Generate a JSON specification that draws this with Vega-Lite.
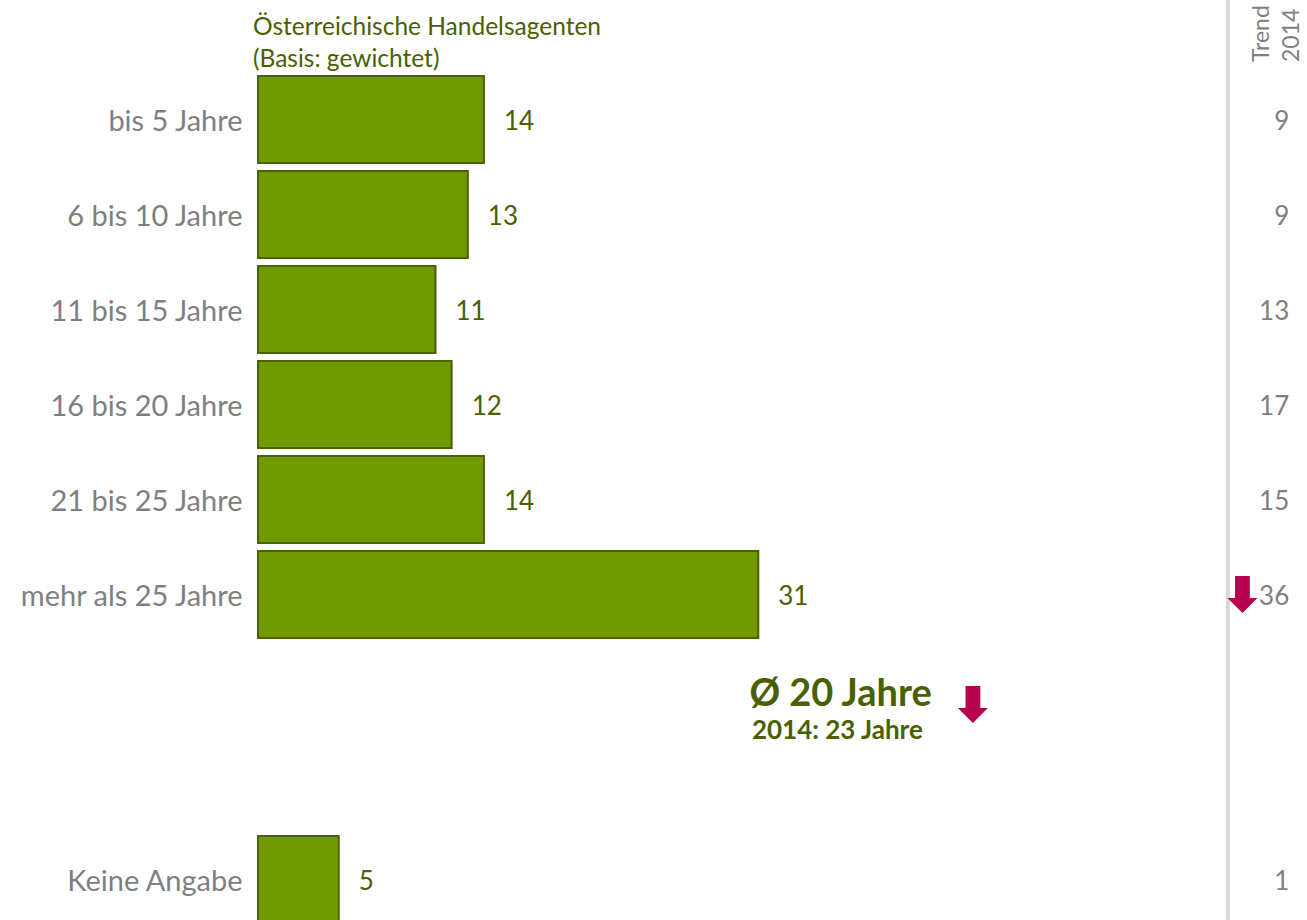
{
  "$schema": "https://vega.github.io/schema/vega-lite/v6.json",
  "width": 1049,
  "height": 855,
  "autosize": {"type": "none"},
  "padding": {"left": 258, "top": 72, "right": 0, "bottom": 0},
  "background": "white",
  "config": {"view": {"stroke": null}, "font": "Lato"},
  "data": {
    "values": [
      {"cat": "bis 5 Jahre", "value": 14, "trend": 9},
      {"cat": "6 bis 10 Jahre", "value": 13, "trend": 9},
      {"cat": "11 bis 15 Jahre", "value": 11, "trend": 13},
      {"cat": "16 bis 20 Jahre", "value": 12, "trend": 17},
      {"cat": "21 bis 25 Jahre", "value": 14, "trend": 15},
      {"cat": "mehr als 25 Jahre", "value": 31, "trend": 36, "arrow": "down"},
      {"cat": "Keine Angabe", "value": 5, "trend": 1}
    ]
  },
  "layer": [
    {
      "mark": {"type": "bar", "fill": "#719a00", "stroke": "#4a6200", "strokeWidth": 2},
      "encoding": {
        "y": {
          "field": "cat", "type": "nominal",
          "scale": {
            "domain": ["bis 5 Jahre", "6 bis 10 Jahre", "11 bis 15 Jahre", "16 bis 20 Jahre", "21 bis 25 Jahre", "mehr als 25 Jahre", "gap1", "gap2", "Keine Angabe"],
            "paddingInner": 0.084, "paddingOuter": 0.042
          },
          "axis": {
            "title": null, "ticks": false, "domain": false, "grid": false,
            "labelFontSize": 29, "labelColor": "#7f7f7f", "labelPadding": 16, "labelFont": "Lato", "labelLimit": 400, "labelOffset": 2,
            "labelExpr": "indexof(datum.label, 'gap') == 0 ? '' : datum.label"
          }
        },
        "x": {"field": "value", "type": "quantitative", "scale": {"domain": [0, 65], "nice": false, "zero": true}, "axis": null}
      }
    },
    {
      "mark": {"type": "text", "align": "left", "baseline": "middle", "dx": 20, "dy": 2, "fontSize": 26, "color": "#4a6000"},
      "encoding": {
        "y": {"field": "cat", "type": "nominal"},
        "x": {"field": "value", "type": "quantitative"},
        "text": {"field": "value", "type": "quantitative"}
      }
    },
    {
      "mark": {"type": "text", "align": "right", "baseline": "middle", "dy": 2, "fontSize": 26, "color": "#7f7f7f"},
      "encoding": {
        "y": {"field": "cat", "type": "nominal"},
        "x": {"datum": 63.9, "type": "quantitative"},
        "text": {"field": "trend", "type": "quantitative"}
      }
    },
    {
      "data": {"values": [{"line": "trend"}]},
      "mark": {"type": "rule", "color": "#d9d9d9", "strokeWidth": 4, "yOffset": -80, "y2Offset": 10},
      "encoding": {
        "x": {"datum": 60.1, "type": "quantitative"}
      }
    },
    {
      "transform": [{"filter": "datum.arrow == 'down'"}],
      "mark": {
        "type": "point", "filled": true, "fill": "#b8004f", "opacity": 1, "strokeWidth": 0, "size": 1369,
        "shape": "M-0.4,-1L0.4,-1L0.4,0.19L0.81,0.19L0,1L-0.81,0.19L-0.4,0.19Z"
      },
      "encoding": {
        "y": {"field": "cat", "type": "nominal"},
        "x": {"datum": 61.0, "type": "quantitative"}
      }
    },
    {
      "data": {"values": [{"cat": "gap1", "label": "Ø 20 Jahre", "sub": "2014: 23 Jahre", "arrow": "down"}]},
      "layer": [
        {
          "mark": {"type": "text", "align": "center", "baseline": "middle", "fontSize": 38, "fontWeight": "bold", "color": "#4a6000", "dy": 5},
          "encoding": {
            "y": {"field": "cat", "type": "nominal"},
            "x": {"datum": 36.1, "type": "quantitative"},
            "text": {"field": "label"}
          }
        },
        {
          "mark": {"type": "text", "align": "center", "baseline": "middle", "fontSize": 26, "fontWeight": "bold", "color": "#4a6000", "dy": 41},
          "encoding": {
            "y": {"field": "cat", "type": "nominal"},
            "x": {"datum": 35.9, "type": "quantitative"},
            "text": {"field": "sub"}
          }
        },
        {
          "mark": {
            "type": "point", "filled": true, "fill": "#b8004f", "opacity": 1, "strokeWidth": 0, "size": 1369, "yOffset": 15,
            "shape": "M-0.4,-1L0.4,-1L0.4,0.19L0.81,0.19L0,1L-0.81,0.19L-0.4,0.19Z"
          },
          "encoding": {
            "y": {"field": "cat", "type": "nominal"},
            "x": {"datum": 44.3, "type": "quantitative"}
          }
        }
      ]
    },
    {
      "data": {"values": [{"cat": "bis 5 Jahre", "head": "Österreichische Handelsagenten (Basis: gewichtet)"}]},
      "mark": {"type": "text", "align": "left", "baseline": "middle", "fontSize": 24.5, "color": "#4a6000", "lineHeight": 32, "dx": -5, "yOffset": -91.5},
      "encoding": {
        "y": {"field": "cat", "type": "nominal"},
        "x": {"datum": 0, "type": "quantitative"},
        "text": {"value": ["Österreichische Handelsagenten", "(Basis: gewichtet)"]}
      }
    },
    {
      "data": {"values": [{"cat": "bis 5 Jahre", "head": "Trend 2014"}]},
      "mark": {"type": "text", "angle": 270, "align": "left", "baseline": "middle", "fontSize": 23, "color": "#7f7f7f", "lineHeight": 30, "yOffset": -57.5},
      "encoding": {
        "y": {"field": "cat", "type": "nominal"},
        "x": {"datum": 62.2, "type": "quantitative"},
        "text": {"value": ["Trend", "2014"]}
      }
    }
  ]
}
